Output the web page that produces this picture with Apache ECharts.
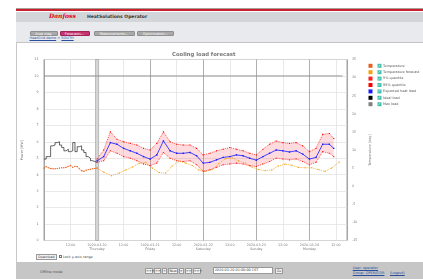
<!DOCTYPE html>
<html><head><meta charset="utf-8">
<script src="https://cdn.jsdelivr.net/npm/echarts@6/dist/echarts.min.js"></script>
<style>
html,body{margin:0;padding:0;width:423px;height:279px;overflow:hidden;background:#fff;font-family:"DejaVu Sans",sans-serif;}
.a{position:absolute;white-space:nowrap;}
.tab{position:absolute;top:31px;height:5px;line-height:5px;font-size:3.4px;color:#fff;text-align:center;background:#a9a9a9;border-radius:1px;border:0.5px solid #8f8f8f;box-sizing:border-box;}
.btn{position:absolute;height:5.5px;line-height:5px;font-size:3.3px;color:#333;text-align:center;background:#f2f2f2;border:0.5px solid #999;box-sizing:border-box;border-radius:0.5px;}
.lnk{color:#2a4fa0;text-decoration:underline;font-size:3.5px;}
</style></head><body>
<div class="a" style="left:16px;top:8px;width:407px;height:1.3px;background:#a89e96"></div>
<div class="a" style="left:16px;top:9.3px;width:407px;height:2.2px;background:#c9212f"></div>
<div class="a" style="left:16px;top:11.5px;width:407px;height:10.2px;background:#d3d6d9"></div>
<div class="a" style="left:16px;top:21.7px;width:407px;height:20px;background:#e9eaed"></div>
<div class="a" style="left:16px;top:41.5px;width:407px;height:1px;background:#c4c4c4"></div>
<div class="a" style="left:16px;top:42.5px;width:1px;height:220px;background:#c8c8c8"></div>
<div class="a" style="left:16px;top:262px;width:407px;height:17px;background:#c6c6c6"></div>
<div class="a" style="left:49px;top:11.8px;font-family:'DejaVu Serif',serif;font-style:italic;font-weight:bold;font-size:6px;color:#e2000f;">Danfoss</div>
<div class="a" style="left:87px;top:14px;font-weight:bold;font-size:4.5px;color:#333;">HeatSolutions Operator</div>
<div class="a" style="left:29.5px;top:23.8px;"><span class="lnk">HeatGrid demo</span><span style="font-size:3.5px;color:#333;"> &gt; </span><span class="lnk">SOUTH</span></div>
<div class="tab" style="left:29.5px;width:28px;">Area map</div>
<div class="tab" style="left:59.5px;width:30px;background:#c7336f;border-color:#a02458;">Forecasts...</div>
<div class="tab" style="left:93.5px;width:41px;">Measurements...</div>
<div class="tab" style="left:137px;width:37px;">Optimization...</div>
<div class="btn" style="left:36px;top:254px;width:21px;">Download</div>
<div class="a" style="left:59px;top:255px;width:3px;height:3px;border:0.5px solid #777;background:#fff;box-sizing:border-box;"></div>
<div class="a" style="left:63px;top:254.6px;font-size:3.4px;color:#444;">Lock y-axis range</div>
<div class="a" style="left:40px;top:269.8px;font-size:3.5px;color:#555;">Offline mode</div>
<div class="btn" style="left:145px;top:268px;width:8px;">&lt;&lt;&lt;</div>
<div class="btn" style="left:154px;top:268px;width:7px;">&lt;&lt;</div>
<div class="btn" style="left:162px;top:268px;width:5px;">&lt;</div>
<div class="btn" style="left:168px;top:268px;width:10px;">Now</div>
<div class="btn" style="left:179px;top:268px;width:5px;">&gt;</div>
<div class="btn" style="left:185px;top:268px;width:7px;">&gt;&gt;</div>
<div class="btn" style="left:193px;top:268px;width:8px;">&gt;&gt;&gt;</div>
<div class="a" style="left:212.7px;top:267.3px;width:60px;height:6.4px;background:#fff;border:0.5px solid #999;box-sizing:border-box;font-size:3.4px;line-height:5.6px;color:#333;padding-left:1px;">2020-03-20 01:00:00 CET</div>
<div class="btn" style="left:275px;top:268px;width:8px;">Go</div>
<div class="a lnk" style="left:352.7px;top:266.4px;">User: operator</div>
<div class="a lnk" style="left:352.7px;top:270.8px;">Group: OPERATOR</div>
<div class="a lnk" style="left:390px;top:270.5px;">(Logout)</div>
<div id="chart" class="a" style="left:0;top:0;width:423px;height:279px;"></div>
<script>
// ---- data (x values are hours since 2020-03-19 00:00) ----
const xTickLabels = ['', '12:00', '2020-03-20\nThursday', '12:00', '2020-03-21\nFriday', '12:00',
  '2020-03-22\nSaturday', '12:00', '2020-03-23\nSunday', '12:00', '2020-03-24\nMonday', '12:00'];
const legendNames = ['Temperature', 'Temperature forecast', '5% quantile', '95% quantile',
  'Expected heat load', 'Ideal load', 'Max load'];

const idealHours = [0,1,2,3,4,5,6,7,8,9,10,11,12,13,14,15,16,17,18,19,20,21,22,23,24];
const idealLoad = [4.95,4.95,5.1,5.1,5.75,5.8,5.95,6.0,5.8,5.65,5.45,5.55,5.4,5.45,5.95,5.4,5.7,5.75,5.5,5.35,5.1,5.0,4.85,4.8,4.75];

const tempHours = [0,1,2,3,4,5,6,7,8,9,10,11,12,13,14,15,16,17,18,19,20,21,22,23,24];
const temperature = [5.0,5.4,5.1,4.9,4.8,4.8,4.9,5.0,5.1,5.1,5.2,5.5,5.7,5.2,5.5,5.4,4.8,4.3,4.1,4.4,4.6,4.7,4.8,4.9,5.0];

const tfHours = [24,27,30.5,34,37,40,43,46,49,52,55,58,61,64,67,70,73,76,79,82,85,88,91,94,97,100,103,106,109,112,115,118,121,124,127,130,133.5];
const tempForecast = [5.0,3.9,2.9,3.6,4.5,5.3,6.3,6.6,5.0,3.8,3.6,5.6,6.9,6.4,5.7,4.5,4.1,4.6,6.2,7.6,7.8,7.0,6.4,5.3,4.6,4.3,4.5,5.6,6.1,5.8,5.2,5.1,5.1,4.6,4.1,5.0,6.7];

const fcHours = [24,27,30,33,36,39,42,45,48,51,54,57,60,63,66,69,72,75,78,81,84,87,90,93,96,99,102,105,108,111,114,117,120,123,126,129,131];
const expectedLoad = [4.84,5.1,5.95,5.85,5.6,5.45,5.3,5.1,4.95,5.2,6.05,5.45,5.3,5.3,5.35,5.15,4.7,4.75,4.9,5.05,5.1,5.2,5.15,5.0,4.88,5.1,5.3,5.5,5.45,5.38,5.45,5.25,4.95,5.05,5.85,5.85,5.6];
const q95 = [4.95,5.5,6.6,6.15,6.0,5.9,5.8,5.6,5.5,5.9,6.6,6.0,5.85,5.8,5.8,5.6,5.2,5.3,5.45,5.55,5.65,5.55,5.45,5.3,5.2,5.55,5.85,6.05,5.95,5.9,5.95,5.75,5.4,5.6,6.45,6.5,6.2];
const q05 = [4.75,4.85,5.45,5.3,5.1,5.0,4.85,4.65,4.55,4.7,5.35,5.0,4.85,4.8,4.85,4.6,4.2,4.3,4.45,4.6,4.65,4.7,4.65,4.55,4.5,4.65,4.8,5.0,4.95,4.9,4.95,4.8,4.6,4.75,5.4,5.3,5.1];

const maxLoadHours = [0, 135];
const maxLoad = [10, 10];

// ---- chart ----
const zip = (xs, ys) => xs.map((x, i) => [x, ys[i]]);
const FONT = 'DejaVu Sans';
function pts(name, xs, ys, color, axis, extra) {
  return Object.assign({
    name: name, type: 'line', yAxisIndex: axis, data: zip(xs, ys),
    symbol: 'rect', symbolSize: 1.1, showSymbol: true, color: color,
    lineStyle: { width: 0.8, color: color, type: [1, 1] }, itemStyle: { color: color },
    animation: false, z: 3
  }, extra || {});
}
const chart = echarts.init(document.getElementById('chart'), null, { renderer: 'canvas' });
chart.setOption({
  animation: false,
  backgroundColor: 'transparent',
  textStyle: { fontFamily: FONT },
  title: {
    text: 'Cooling load forecast', left: 167, top: 47.3,
    textStyle: { fontSize: 5.3, fontWeight: 'bold', color: '#777', fontFamily: FONT }
  },
  legend: {
    data: legendNames, orient: 'vertical', left: 363.5, top: 58.8,
    itemWidth: 4, itemHeight: 4, itemGap: 2.4, icon: 'rect', selectedMode: false,
    formatter: (n) => '{cb|✓}{t|' + n + '}',
    itemStyle: { borderWidth: 0 },
    textStyle: {
      fontSize: 3.4, color: '#555', fontFamily: FONT,
      rich: {
        cb: { backgroundColor: '#3fbfad', color: '#fff', width: 4, height: 4, fontSize: 3.6, fontWeight: 'bold', align: 'center', lineHeight: 4 },
        t: { fontSize: 3.4, color: '#555', padding: [0, 0, 0, 1.6], fontFamily: FONT }
      }
    }
  },
  grid: { left: 44, right: 76, top: 59.5, bottom: 38.5, show: true, borderColor: '#888', borderWidth: 0.8, containLabel: false },
  xAxis: {
    type: 'value', min: 0, max: 137, interval: 12,
    axisLine: { show: false }, axisTick: { show: false },
    axisLabel: {
      fontSize: 3.3, color: '#777', lineHeight: 4, margin: 2.5, showMaxLabel: false, fontFamily: FONT,
      formatter: (v) => (v % 12 === 0 ? (xTickLabels[v / 12] || '') : '')
    },
    splitLine: { show: true, lineStyle: { color: ['#9a9a9a', '#e3e3e3'], width: 0.8 } }
  },
  yAxis: [
    {
      type: 'value', min: 0, max: 11, interval: 1, name: 'Power [MW]', nameLocation: 'middle', nameGap: 10.5,
      nameTextStyle: { fontSize: 3.4, color: '#777', fontFamily: FONT },
      axisLine: { show: false }, axisTick: { show: false },
      axisLabel: { fontSize: 3.3, color: '#777', margin: 5.5, fontFamily: FONT },
      splitLine: { lineStyle: { color: '#e3e3e3', width: 0.8 } }
    },
    {
      type: 'value', min: -15, max: 35, interval: 5, name: 'Temperature [deg]', nameLocation: 'middle', nameGap: 12.5,
      nameTextStyle: { fontSize: 3.4, color: '#777', fontFamily: FONT },
      axisLine: { show: false }, axisTick: { show: false },
      axisLabel: { fontSize: 3.3, color: '#777', margin: 5, fontFamily: FONT },
      splitLine: { show: false }
    }
  ],
  series: [
    pts('Temperature', tempHours, temperature, '#e8601c', 1),
    pts('Temperature forecast', tfHours, tempForecast, '#f5a20f', 1),
    {
      name: 'band', type: 'custom', yAxisIndex: 0, silent: true, z: 1, animation: false,
      data: fcHours.map((h, i) => [h, q05[i], q95[i]]),
      encode: { x: 0, y: [1, 2] },
      renderItem: function (params, api) {
        if (params.dataIndex !== 0) return null;
        const up = fcHours.map((h, i) => api.coord([h, q95[i]]));
        const lo = fcHours.map((h, i) => api.coord([h, q05[i]])).reverse();
        return {
          type: 'polygon', shape: { points: up.concat(lo) },
          style: { fill: 'rgba(255,40,60,0.17)', stroke: null }
        };
      }
    },
    pts('5% quantile', fcHours, q05, '#ff2020', 0, { lineStyle: { width: 0.9, color: '#ff4040', type: [1, 1] } }),
    pts('95% quantile', fcHours, q95, '#ff0000', 0, { lineStyle: { width: 0.9, color: '#ff4040', type: [1, 1] } }),
    pts('Expected heat load', fcHours, expectedLoad, '#1a1aff', 0, { symbolSize: 1.4, lineStyle: { width: 0.9, color: '#3030ff' } }),
    pts('Ideal load', idealHours, idealLoad, '#000000', 0, {
      step: 'start', symbol: 'none', lineStyle: { width: 0.7, color: '#222' },
      markArea: {
        silent: true, itemStyle: { color: '#d6d6d6', borderColor: '#9a9a9a', borderWidth: 0.6 },
        data: [[{ xAxis: 23.3 }, { xAxis: 24.7 }]]
      }
    }),
    pts('Max load', maxLoadHours, maxLoad, '#808080', 0, { symbol: 'none', lineStyle: { width: 0.9, color: '#8a8a8a' } })
  ]
});
</script>
</body></html>
